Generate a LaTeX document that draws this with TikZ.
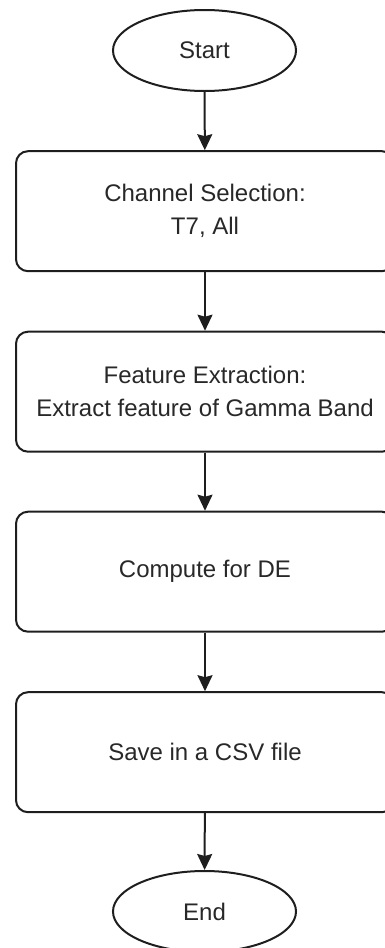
\documentclass[tikz,border=0pt]{standalone}
\usepackage{fontspec}
\setmainfont{Liberation Sans}
\usetikzlibrary{arrows.meta,shapes.geometric}
\definecolor{ink}{RGB}{30,30,30}
\definecolor{txt}{RGB}{40,40,40}
\begin{document}
\begin{tikzpicture}[x=1pt,y=-1pt,
  label font/.style={font=\fontsize{24pt}{33pt}\selectfont, text=txt, align=center},
  process/.style={label font, draw=ink, line width=2pt, rounded corners=12pt,
    minimum width=378pt, minimum height=120pt, inner sep=0pt},
  terminal/.style={label font, ellipse, draw=ink, line width=2pt,
    minimum width=183pt, minimum height=81pt, inner sep=0pt},
  flow/.style={draw=ink, line width=2pt, -{Stealth[length=16pt,width=15pt,inset=2pt]}}]
  \useasboundingbox (0,0) rectangle (385,948);
  \clip (0,0) rectangle (385,948);

  \node[terminal] (start) at (204.5,50.5) {Start};
  \node[process] (chan) at (205,211.2) {Channel Selection:\\T7, All};
  \node[process] (feat) at (205,391.7) {Feature Extraction:\\Extract feature of Gamma Band};
  \node[process] (de)   at (205,571.7) {Compute for DE};
  \node[process] (save) at (205,752.2) {Save in a CSV file};
  \node[terminal] (end) at (204.5,911.5) {End};

  \draw[flow] (start) -- (chan);
  \draw[flow] (chan) -- (feat);
  \draw[flow] (feat) -- (de);
  \draw[flow] (de) -- (save);
  \draw[flow] (save) -- (end);
\end{tikzpicture}
\end{document}
